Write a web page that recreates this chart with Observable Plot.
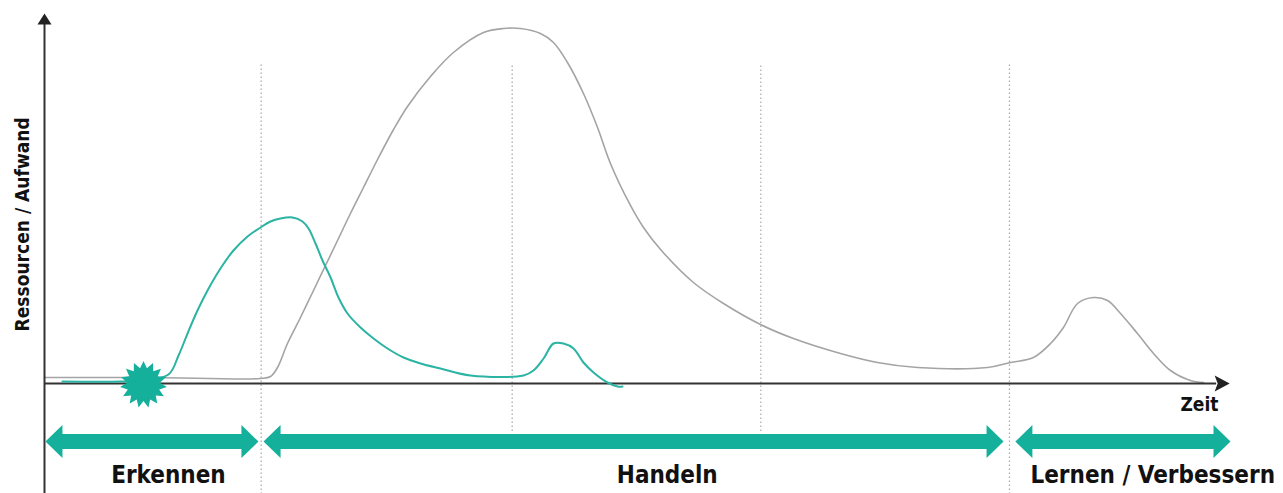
<!DOCTYPE html>
<html><head><meta charset="utf-8">
<script src="https://cdn.jsdelivr.net/npm/d3@7"></script>
<script src="https://cdn.jsdelivr.net/npm/@observablehq/plot@0.6"></script>
<style>body{margin:0;background:#fff} svg{overflow:visible;background:#fff}</style>
</head><body><div id="chart"></div>
<script>
// ---- data (time 0..100, resources 0..100) ----
const grayX = [0, 8.95, 18.24, 19.09, 19.68, 20.52, 21.62, 22.72, 23.73, 24.75, 25.84, 26.94, 28.13, 29.48, 30.66, 32.6, 34.54, 37.08, 38.77, 40.2, 41.89, 42.99, 44.17, 45.52, 46.71, 47.8, 49.49, 50.59, 52.03, 54.81, 57.35, 60.47, 63.26, 67.23, 70.35, 73.73, 79.65, 81.59, 83.53, 84.97, 86.06, 87.25, 88.6, 89.78, 90.88, 92.31, 93.67, 95.1, 96.79, 97.89];
const grayY = [1.62, 1.62, 1.35, 1.89, 4.32, 10.81, 17.84, 25.14, 31.89, 38.65, 45.95, 52.97, 60.54, 68.65, 74.86, 82.97, 89.46, 94.86, 95.95, 95.95, 94.59, 92.16, 86.76, 78.38, 69.19, 59.46, 48.11, 42.16, 36.22, 27.3, 21.62, 15.95, 12.16, 8.11, 5.68, 4.32, 4.32, 5.68, 7.03, 10.81, 15.14, 21.62, 23.24, 22.43, 18.92, 13.51, 8.11, 3.51, 0.81, 0.27];

const tealX = [1.52, 6.42, 8.11, 10.47, 11.32, 12.08, 12.92, 13.77, 14.86, 15.96, 17.15, 18.24, 19.09, 19.93, 20.95, 21.79, 22.3, 22.89, 23.48, 24.16, 24.83, 25.59, 26.69, 27.79, 28.97, 30.32, 31.76, 33.45, 35.98, 40.46, 41.3, 42.15, 42.99, 43.83, 44.68, 45.52, 46.37, 47.55, 48.4, 48.82];
const tealY = [0.54, 0.54, 0.81, 2.43, 7.57, 13.51, 19.73, 25.14, 31.08, 35.95, 39.73, 42.16, 43.78, 44.59, 44.86, 43.78, 41.89, 37.84, 33.24, 28.65, 23.24, 18.92, 15.14, 12.16, 9.46, 7.03, 5.41, 4.05, 2.16, 2.16, 3.51, 6.76, 10.81, 10.81, 9.46, 5.68, 2.97, 0.27, -0.81, -0.81];

const phaseLineX = [18.3, 39.5, 60.5, 81.5];
const phaseLineTop = [86.5, 86.5, 86.5, 86.5];
const phaseLineBottom = [-30, -13, -13, -30];

const phaseNames = ["Erkennen", "Handeln", "Lernen / Verbessern"];
const phaseStart = [0.08, 18.5, 82.0];
const phaseEnd = [18.07, 81.0, 100.17];
const phaseLabelX = [10.47, 52.6, 93.6];
const arrowY = -15.7;
const labelY = -27.0;

const eventX = [8.36];
const eventY = [-0.27];

const yAxisSpan = [-30, 97];
const xAxisSpan = [0, 99];
const yAxisTip = 100;
const xAxisTip = 100.1;
const yTitle = "Ressourcen / Aufwand";
const yTitlePos = [-1.86, 43.0];
const xTitle = "Zeit";
const xTitlePos = [97.55, -7.3];

// ---- build tables ----
const gray = grayX.map((x, i) => ({x, y: grayY[i]}));
const teal = tealX.map((x, i) => ({x, y: tealY[i]}));
const lines = phaseLineX.map((x, i) => ({x, y1: phaseLineBottom[i], y2: phaseLineTop[i]}));
const phases = phaseNames.map((name, i) => ({name, start: phaseStart[i], end: phaseEnd[i], lx: phaseLabelX[i]}));

// ---- custom symbols ----
const headRight = {draw(c) { c.moveTo(0, 0); c.lineTo(-17, -16.5); c.lineTo(-17, 16.5); c.closePath(); }};
const headLeft = {draw(c) { c.moveTo(0, 0); c.lineTo(17, -16.5); c.lineTo(17, 16.5); c.closePath(); }};
const headUp = {draw(c) { c.moveTo(0, 0); c.lineTo(7, 11); c.lineTo(-7, 11); c.closePath(); }};
const headX = {draw(c) { c.moveTo(0, 0); c.lineTo(-15, -8); c.lineTo(-12, 0); c.lineTo(-15, 8); c.closePath(); }};
const star = {draw(c) {
  const n = 15, ro = 23.5, ri = 16.5;
  for (let i = 0; i < 2 * n; i++) {
    const a = (i * Math.PI) / n - Math.PI / 2;
    const r = i % 2 === 0 ? ro : ri;
    const px = r * Math.cos(a), py = r * Math.sin(a);
    if (i === 0) c.moveTo(px, py); else c.lineTo(px, py);
  }
  c.closePath();
}};

const TEAL = "#14b09b";
const FONT = "'DejaVu Sans Condensed','Liberation Sans Narrow','DejaVu Sans',sans-serif";

const chart = Plot.plot({
  width: 1283,
  height: 493,
  marginLeft: 44,
  marginRight: 55,
  marginTop: 13,
  marginBottom: 110,
  x: {domain: [0, 100], axis: null},
  y: {domain: [0, 100], axis: null},
  style: {background: "#fff", overflow: "visible"},
  marks: [
    Plot.ruleX(lines, {x: "x", y1: "y1", y2: "y2", stroke: "#a8a8a8", strokeWidth: 1.2, strokeDasharray: "1.5,2.5"}),
    Plot.line(gray, {x: "x", y: "y", stroke: "#a4a4a4", strokeWidth: 1.6, curve: "catmull-rom"}),
    Plot.ruleY([0], {x1: xAxisSpan[0], x2: xAxisSpan[1], stroke: "#333", strokeWidth: 2}),
    Plot.ruleX([0], {y1: yAxisSpan[0], y2: yAxisSpan[1], stroke: "#333", strokeWidth: 2}),
    Plot.dot([xAxisTip], {x: d => d, y: 0, symbol: headX, fill: "#222", stroke: null}),
    Plot.dot([yAxisTip], {x: 0, y: d => d, symbol: headUp, fill: "#222", stroke: null}),
    Plot.line(teal, {x: "x", y: "y", stroke: "#2bb3a3", strokeWidth: 2, curve: "catmull-rom"}),
    Plot.dot(eventX, {x: d => d, y: (d, i) => eventY[i], symbol: star, fill: TEAL, stroke: null}),
    Plot.ruleY(phases, {x1: d => d.start + 1.0, x2: d => d.end - 1.0, y: arrowY, stroke: TEAL, strokeWidth: 15}),
    Plot.dot(phases, {x: "start", y: arrowY, symbol: headLeft, fill: TEAL, stroke: null}),
    Plot.dot(phases, {x: "end", y: arrowY, symbol: headRight, fill: TEAL, stroke: null}),
    Plot.text(phases, {x: "lx", y: labelY, text: "name", textAnchor: "middle", lineAnchor: "bottom", fontFamily: FONT, fontSize: 24, fontWeight: "bold", fill: "#111"}),
    Plot.text([xTitle], {x: xTitlePos[0], y: xTitlePos[1], text: d => d, textAnchor: "middle", lineAnchor: "bottom", fontFamily: FONT, fontSize: 19, fontWeight: "bold", fill: "#111"}),
    Plot.text([yTitle], {x: yTitlePos[0], y: yTitlePos[1], text: d => d, rotate: -90, textAnchor: "middle", lineAnchor: "middle", fontFamily: FONT, fontSize: 19, fontWeight: "bold", fill: "#111"})
  ]
});
document.getElementById("chart").appendChild(chart);
</script>
</body></html>
